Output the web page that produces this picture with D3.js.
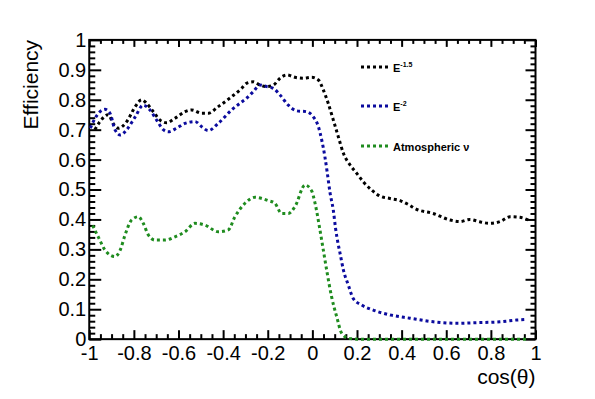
<!DOCTYPE html>
<html>
<head>
<meta charset="utf-8">
<script src="https://cdn.jsdelivr.net/npm/d3@7.9.0/dist/d3.min.js"></script>
<style>
  html, body { margin: 0; padding: 0; background: #fff; }
  text { font-family: "Liberation Sans", Arial, Helvetica, sans-serif; }
</style>
</head>
<body>
<div id="chart"></div>
<script>
// === Data ===
// each point: [cos(theta), efficiency]
const e15Points = [
  [-0.975, 0.700], [-0.952, 0.727], [-0.915, 0.750], [-0.892, 0.720], [-0.870, 0.705],
  [-0.832, 0.727], [-0.794, 0.777], [-0.765, 0.800], [-0.743, 0.788], [-0.713, 0.760],
  [-0.683, 0.732], [-0.653, 0.723], [-0.616, 0.738], [-0.571, 0.760], [-0.541, 0.766],
  [-0.496, 0.755], [-0.467, 0.755], [-0.422, 0.777], [-0.362, 0.810], [-0.317, 0.838],
  [-0.295, 0.855], [-0.265, 0.860], [-0.235, 0.849], [-0.205, 0.844], [-0.175, 0.849],
  [-0.145, 0.872], [-0.115, 0.883], [-0.078, 0.875], [-0.041, 0.872], [-0.003, 0.875],
  [0.027, 0.866], [0.049, 0.833], [0.071, 0.788], [0.094, 0.732], [0.116, 0.677],
  [0.139, 0.621], [0.169, 0.582], [0.199, 0.554], [0.228, 0.526], [0.266, 0.498],
  [0.303, 0.478], [0.348, 0.470], [0.393, 0.463], [0.430, 0.450], [0.467, 0.434],
  [0.542, 0.420], [0.617, 0.398], [0.662, 0.393], [0.706, 0.400], [0.750, 0.392],
  [0.796, 0.387], [0.841, 0.393], [0.886, 0.409], [0.930, 0.407], [0.968, 0.398]
];

const e2Points = [
  [-0.995, 0.705], [-0.974, 0.738], [-0.930, 0.768], [-0.907, 0.755], [-0.885, 0.700],
  [-0.860, 0.682], [-0.832, 0.700], [-0.794, 0.743], [-0.758, 0.782], [-0.728, 0.766],
  [-0.698, 0.732], [-0.668, 0.700], [-0.646, 0.693], [-0.608, 0.705], [-0.571, 0.721],
  [-0.526, 0.727], [-0.496, 0.710], [-0.467, 0.697], [-0.422, 0.721], [-0.362, 0.766],
  [-0.325, 0.788], [-0.295, 0.805], [-0.265, 0.827], [-0.235, 0.849], [-0.205, 0.844],
  [-0.175, 0.838], [-0.145, 0.816], [-0.108, 0.782], [-0.070, 0.763], [-0.026, 0.760],
  [0.004, 0.743], [0.027, 0.710], [0.042, 0.665], [0.056, 0.610], [0.066, 0.560],
  [0.079, 0.490], [0.094, 0.430], [0.104, 0.370], [0.115, 0.320], [0.124, 0.287],
  [0.139, 0.231], [0.161, 0.181], [0.183, 0.136], [0.221, 0.114], [0.273, 0.097],
  [0.348, 0.081], [0.437, 0.070], [0.542, 0.058], [0.647, 0.053], [0.736, 0.055],
  [0.841, 0.058], [0.916, 0.064], [0.960, 0.066]
];

const atmPoints = [
  [-0.985, 0.380], [-0.952, 0.330], [-0.930, 0.298], [-0.885, 0.276], [-0.860, 0.300],
  [-0.841, 0.345], [-0.810, 0.398], [-0.780, 0.409], [-0.758, 0.387], [-0.735, 0.348],
  [-0.705, 0.331], [-0.661, 0.331], [-0.616, 0.342], [-0.571, 0.359], [-0.526, 0.387],
  [-0.481, 0.381], [-0.422, 0.359], [-0.377, 0.365], [-0.347, 0.409], [-0.302, 0.454],
  [-0.257, 0.474], [-0.198, 0.463], [-0.168, 0.454], [-0.138, 0.420], [-0.108, 0.420],
  [-0.078, 0.443], [-0.033, 0.515], [-0.003, 0.495], [0.012, 0.454], [0.034, 0.365],
  [0.049, 0.298], [0.064, 0.231], [0.086, 0.142], [0.109, 0.075], [0.131, 0.020],
  [0.161, 0.003], [0.200, 0.000], [0.400, 0.000], [0.600, 0.000], [0.800, 0.000],
  [0.960, 0.000]
];

const xMajorTicks = [-1, -0.8, -0.6, -0.4, -0.2, 0, 0.2, 0.4, 0.6, 0.8, 1];
const yMajorTicks = [0, 0.1, 0.2, 0.3, 0.4, 0.5, 0.6, 0.7, 0.8, 0.9, 1];

const series = [
  { name: "E", sup: "-1.5", color: "#000000", points: e15Points },
  { name: "E", sup: "-2", color: "#0b0b9e", points: e2Points },
  { name: "Atmospheric \u03bd", sup: null, color: "#1f8c1f", points: atmPoints }
];

// === Layout (ROOT-like pad margins) ===
const W = 595, H = 399;
const margin = { top: 39.9, right: 59.5, bottom: 59.85, left: 89.25 };
const width = W - margin.left - margin.right;
const height = H - margin.top - margin.bottom;

const svg = d3.select("#chart").append("svg")
  .attr("width", W).attr("height", H);

const g = svg.append("g")
  .attr("transform", `translate(${margin.left},${margin.top})`);

const x = d3.scaleLinear().domain([-1, 1]).range([0, width]);
const y = d3.scaleLinear().domain([0, 1]).range([height, 0]);

const fmt = d => String(+d.toFixed(1));

// minor ticks
const xMinor = d3.range(-1, 1.0001, 0.05).filter(v => !xMajorTicks.some(m => Math.abs(m - v) < 1e-6));
const yMinor = d3.range(0, 1.0001, 0.02).filter(v => !yMajorTicks.some(m => Math.abs(m - v) < 1e-6));

function styleAxis(sel) {
  sel.select(".domain").remove();
  sel.selectAll("line").attr("stroke", "#000").attr("stroke-width", 2);
  sel.selectAll("text").attr("fill", "#000").style("font-size", "20px")
    .style("font-family", "'Liberation Sans', Arial, sans-serif");
}

// left axis (ticks pointing inward)
g.append("g").call(d3.axisLeft(y).tickValues(yMajorTicks).tickFormat(fmt)
  .tickSizeInner(-12).tickSizeOuter(0).tickPadding(3)).call(styleAxis);
g.append("g").call(d3.axisLeft(y).tickValues(yMinor).tickFormat("")
  .tickSizeInner(-6).tickSizeOuter(0)).call(styleAxis);

// right axis mirror ticks
g.append("g").attr("transform", `translate(${width},0)`)
  .call(d3.axisRight(y).tickValues(yMajorTicks).tickFormat("").tickSizeInner(-10).tickSizeOuter(0)).call(styleAxis);
g.append("g").attr("transform", `translate(${width},0)`)
  .call(d3.axisRight(y).tickValues(yMinor).tickFormat("").tickSizeInner(-5).tickSizeOuter(0)).call(styleAxis);

// bottom axis
g.append("g").attr("transform", `translate(0,${height})`)
  .call(d3.axisBottom(x).tickValues(xMajorTicks).tickFormat(fmt)
    .tickSizeInner(-9).tickSizeOuter(0).tickPadding(7)).call(styleAxis);
g.append("g").attr("transform", `translate(0,${height})`)
  .call(d3.axisBottom(x).tickValues(xMinor).tickFormat("").tickSizeInner(-5).tickSizeOuter(0)).call(styleAxis);

// top axis mirror ticks
g.append("g")
  .call(d3.axisTop(x).tickValues(xMajorTicks).tickFormat("").tickSizeInner(-7).tickSizeOuter(0)).call(styleAxis);
g.append("g")
  .call(d3.axisTop(x).tickValues(xMinor).tickFormat("").tickSizeInner(-4).tickSizeOuter(0)).call(styleAxis);

// frame
g.append("rect")
  .attr("x", 0).attr("y", 0).attr("width", width).attr("height", height)
  .attr("fill", "none").attr("stroke", "#000").attr("stroke-width", 2);

// axis titles
svg.append("text")
  .attr("transform", `translate(38,${margin.top}) rotate(-90)`)
  .attr("text-anchor", "end")
  .style("font-size", "21px")
  .text("Efficiency");

svg.append("text")
  .attr("x", margin.left + width)
  .attr("y", 383.5)
  .attr("text-anchor", "end")
  .style("font-size", "21px")
  .text("cos(\u03b8)");

// curves
const line = d3.line()
  .x(d => x(d[0]))
  .y(d => y(d[1]))
  .curve(d3.curveMonotoneX);

g.selectAll(".curve")
  .data(series)
  .join("path")
  .attr("class", "curve")
  .attr("d", d => line(d.points))
  .attr("fill", "none")
  .attr("stroke", d => d.color)
  .attr("stroke-width", 3)
  .attr("stroke-dasharray", "3,3");

// legend
const legendY = [67, 106, 146];
const legend = svg.append("g");
series.forEach((s, i) => {
  legend.append("line")
    .attr("x1", 361).attr("x2", 389)
    .attr("y1", legendY[i]).attr("y2", legendY[i])
    .attr("stroke", s.color).attr("stroke-width", 3)
    .attr("stroke-dasharray", "3,3");
  const t = legend.append("text")
    .attr("x", 393).attr("y", legendY[i] + 5)
    .style("font-size", "11px").style("font-weight", "bold")
    .text(s.name);
  if (s.sup) {
    t.append("tspan").attr("dy", -5).style("font-size", "7px").text(s.sup);
  }
});
</script>
</body>
</html>
